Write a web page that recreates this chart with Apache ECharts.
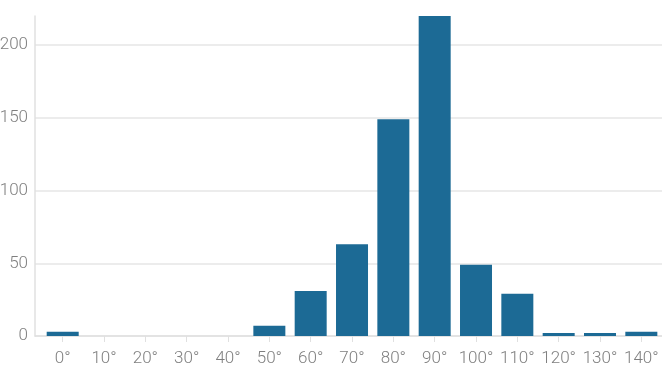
<!DOCTYPE html>
<html><head><meta charset="utf-8">
<script src="https://cdn.jsdelivr.net/npm/echarts@6/dist/echarts.min.js"></script>
<style>html,body{margin:0;padding:0;background:#fff}#c{width:662px;height:377px}</style>
</head><body><div id="c"></div>
<script>
var angles = [0, 10, 20, 30, 40, 50, 60, 70, 80, 90, 100, 110, 120, 130, 140];
var counts = [3, 0, 0, 0, 0, 7, 31, 63, 149, 220, 49, 29, 2, 2, 3];
var yTicks = [0, 50, 100, 150, 200];

var data = angles.map(function (a, i) { return [a, counts[i]]; });
var chart = echarts.init(document.getElementById('c'));
var labelFont = { color: '#7f7f7f', fontFamily: 'Roboto', fontWeight: 300, fontSize: 17 };
chart.setOption({
  animation: false,
  grid: { left: 35, right: 0, top: 16, bottom: 41, containLabel: false, outerBoundsMode: 'none' },
  xAxis: {
    type: 'value', min: -6.7, max: 145,
    axisLine: { show: true, onZero: false, lineStyle: { color: '#e0e0e0', width: 1.5 } },
    axisTick: { show: true, customValues: angles, length: 6, lineStyle: { color: '#e0e0e0' } },
    axisLabel: Object.assign({ customValues: angles, formatter: '{value}°', margin: 14 }, labelFont),
    splitLine: { show: false }
  },
  yAxis: {
    type: 'value', min: 0, max: 220,
    axisLine: { show: true, onZero: false, lineStyle: { color: '#e0e0e0', width: 1.5 } },
    axisTick: { show: false, customValues: yTicks },
    axisLabel: Object.assign({ customValues: yTicks, margin: 7 }, labelFont),
    splitLine: { show: true, lineStyle: { color: '#e6e6e6', width: 1.5 } }
  },
  series: [{
    type: 'bar', data: data, barWidth: 32,
    itemStyle: { color: '#1c6a95' }
  }]
});
</script></body></html>
